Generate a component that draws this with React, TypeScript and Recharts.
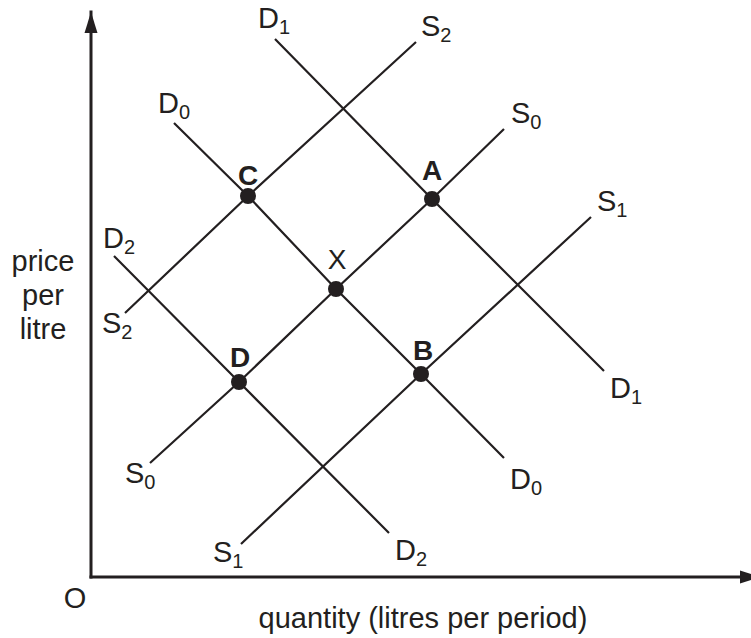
import React from 'react';
import { ComposedChart, Line, Scatter, XAxis, YAxis, ReferenceLine, Customized } from 'recharts';

// quantity / price in arbitrary units (origin at O)
const X_MAX = 66;
const Y_MAX = 57.7;
const Y_AXIS_TOP = 56.5;

const supply0 = [
    { x: 5.9, y: 11.4 },
    { x: 14.8, y: 19.5 },
    { x: 24.5, y: 28.8 },
    { x: 34.1, y: 37.8 },
    { x: 41.3, y: 44.8 },
];
const supply1 = [
    { x: 15.0, y: 3.3 },
    { x: 33.0, y: 20.3 },
    { x: 50.0, y: 36.0 },
];
const supply2 = [
    { x: 3.4, y: 26.4 },
    { x: 15.7, y: 38.1 },
    { x: 32.5, y: 53.5 },
];
const demand0 = [
    { x: 8.3, y: 45.4 },
    { x: 15.7, y: 38.1 },
    { x: 24.5, y: 28.8 },
    { x: 33.0, y: 20.3 },
    { x: 41.3, y: 11.9 },
];
const demand1 = [
    { x: 18.4, y: 53.8 },
    { x: 34.1, y: 37.8 },
    { x: 51.3, y: 20.6 },
];
const demand2 = [
    { x: 2.3, y: 32.1 },
    { x: 14.8, y: 19.5 },
    { x: 29.8, y: 4.4 },
];

const equilibria = [
    { name: 'C', x: 15.7, y: 38.1 },
    { name: 'A', x: 34.1, y: 37.8 },
    { name: 'X', x: 24.5, y: 28.8 },
    { name: 'D', x: 14.8, y: 19.5 },
    { name: 'B', x: 33.0, y: 20.3 },
];

const INK = '#231f20';
const FONT = '"Liberation Sans", Arial, Helvetica, sans-serif';

const curves = [
    { key: 's0', letter: 'S', sub: '0', data: supply0, start: [-25, 20], end: [7, -6] },
    { key: 's1', letter: 'S', sub: '1', data: supply1, start: [-28, 18], end: [6, -6] },
    { key: 's2', letter: 'S', sub: '2', data: supply2, start: [-23, 20], end: [5, -6] },
    { key: 'd0', letter: 'D', sub: '0', data: demand0, start: [-16, -10], end: [6, 31] },
    { key: 'd1', letter: 'D', sub: '1', data: demand1, start: [-17, -11], end: [6, 27] },
    { key: 'd2', letter: 'D', sub: '2', data: demand2, start: [-11, -8], end: [6, 27] },
];

const dotLabelOffset: Record<string, [number, number]> = {
    C: [0, -11],
    A: [0, -19],
    X: [1, -20],
    D: [1, -15],
    B: [2, -14],
};

function CurveLabel({ x, y, letter, sub }: any) {
    return (
        <text x={x} y={y} fontFamily={FONT} fontSize={29} fill={INK}>
            {letter}
            <tspan fontSize={20} dy={6}>{sub}</tspan>
        </text>
    );
}

const makeEndDot = (c: any) => (p: any) => {
    const last = c.data.length - 1;
    if (p.index !== 0 && p.index !== last) return <g key={`${c.key}-${p.index}`} />;
    const off = p.index === 0 ? c.start : c.end;
    return (
        <g key={`${c.key}-${p.index}`}>
            <CurveLabel x={p.cx + off[0]} y={p.cy + off[1]} letter={c.letter} sub={c.sub} />
        </g>
    );
};

const EquilibriumShape = (p: any) => {
    const off = dotLabelOffset[p.payload.name] || [0, -14];
    const bold = p.payload.name !== 'X';
    return (
        <g>
            <circle cx={p.cx} cy={p.cy} r={8} fill={INK} />
            <text
                x={p.cx + off[0]}
                y={p.cy + off[1]}
                textAnchor="middle"
                fontFamily={FONT}
                fontSize={28}
                fontWeight={bold ? 'bold' : 'normal'}
                fill={INK}
            >
                {p.payload.name}
            </text>
        </g>
    );
};

// axis line with an arrowhead at its far end
const ArrowAxis = (p: any) => {
    const { x1, y1, x2, y2 } = p;
    const vertical = Math.abs(x1 - x2) < 1;
    const head = vertical
        ? `M${x2},${y2} L${x2 - 6.5},${y2 + 21} L${x2 + 6.5},${y2 + 21} Z`
        : `M${x2 + 10},${y2} L${x2 - 11},${y2 - 6.5} L${x2 - 11},${y2 + 6.5} Z`;
    return (
        <g>
            <line x1={x1} y1={y1} x2={x2} y2={y2} stroke={INK} strokeWidth={3} strokeLinecap="square" />
            <path d={head} fill={INK} />
        </g>
    );
};

const AxisTitles = () => (
    <g fontFamily={FONT} fontSize={29} fill={INK}>
        <text x={43} y={271} textAnchor="middle">price</text>
        <text x={43} y={305} textAnchor="middle">per</text>
        <text x={43} y={339} textAnchor="middle">litre</text>
        <text x={75} y={608} textAnchor="middle">O</text>
        <text x={423} y={628} textAnchor="middle">quantity (litres per period)</text>
    </g>
);

export default function App() {
    return (
        <div style={{ position: 'absolute', left: 0, top: 0, background: '#fff' }}>
            <ComposedChart width={751} height={638} margin={{ top: 0, right: 0, bottom: 61, left: 91 }}>
                <XAxis type="number" dataKey="x" domain={[0, X_MAX]} hide />
                <YAxis type="number" dataKey="y" domain={[0, Y_MAX]} hide />
                <ReferenceLine
                    segment={[{ x: 0, y: 0 }, { x: 0, y: Y_AXIS_TOP }]}
                    shape={ArrowAxis}
                    ifOverflow="visible"
                />
                <ReferenceLine
                    segment={[{ x: 0, y: 0 }, { x: X_MAX, y: 0 }]}
                    shape={ArrowAxis}
                    ifOverflow="visible"
                />
                {curves.map((c) => (
                    <Line
                        key={c.key}
                        data={c.data}
                        dataKey="y"
                        type="linear"
                        stroke={INK}
                        strokeWidth={2.2}
                        dot={makeEndDot(c)}
                        activeDot={false}
                        isAnimationActive={false}
                    />
                ))}
                <Scatter data={equilibria} dataKey="y" shape={EquilibriumShape} isAnimationActive={false} />
                <Customized component={AxisTitles} />
            </ComposedChart>
        </div>
    );
}
